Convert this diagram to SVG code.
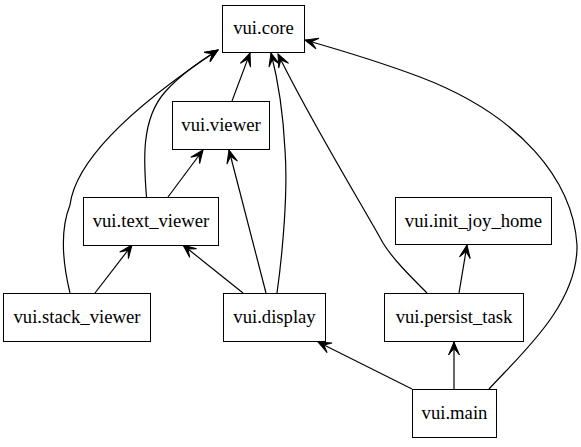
<svg xmlns="http://www.w3.org/2000/svg" width="581" height="447" viewBox="0 0 581 447">
<style>
  .node rect { fill: #ffffff; stroke: #000000; stroke-width: 1; }
  .node text { font-family: 'Liberation Serif', 'Times New Roman', serif; font-size: 18.67px; text-anchor: middle; fill: #000000; }
  .edges path { fill: none; stroke: #000000; stroke-width: 1.2; marker-end: url(#vee); }
</style>
<defs>
  <marker id="vee" viewBox="-15 -7 17 14" refX="0" refY="0" markerWidth="17" markerHeight="14" orient="auto" markerUnits="userSpaceOnUse">
    <path d="M0,0 L-13,-5.5 L-6.5,0 L-13,5.5 Z" fill="#000000" stroke="#000000" stroke-width="1" stroke-linejoin="miter"/>
  </marker>
</defs>
<rect width="581" height="447" fill="#ffffff"/>
<g class="edges">
  <path d="M232,101 L250,53"/>
  <path d="M168,197 L203,150"/>
  <path d="M146.5,197 C144,165 140,120 165,92 C180,75 197,63 218,50"/>
  <path d="M95,293 L132,245"/>
  <path d="M70,293 C62,260 60,230 70,205 C75,165 120,115 218,50"/>
  <path d="M243,293 L183,245"/>
  <path d="M266,293 L229,150"/>
  <path d="M277,293 C283,250 288,190 285,150 C283,110 278,80 271,53"/>
  <path d="M427,293 C410,276 392,258 383,243 C365,210 310,120 278,54"/>
  <path d="M459,293 L467,245"/>
  <path d="M454,389 L454,342"/>
  <path d="M412,389 L318,342"/>
  <path d="M489,389 C520,355 578,305 577,245 C573,180 520,115 420,77 C380,62 340,50 305,40"/>
</g>
<g id="vui.core" class="node"><rect x="222.5" y="5.5" width="82" height="47"/><text x="263.5" y="34">vui.core</text></g>
<g id="vui.viewer" class="node"><rect x="172.5" y="101.5" width="97" height="48"/><text x="221" y="131">vui.viewer</text></g>
<g id="vui.text_viewer" class="node"><rect x="83.5" y="197.5" width="135" height="48"/><text x="151" y="227">vui.text_viewer</text></g>
<g id="vui.init_joy_home" class="node"><rect x="395.5" y="197.5" width="156" height="47"/><text x="473.5" y="226.5">vui.init_joy_home</text></g>
<g id="vui.stack_viewer" class="node"><rect x="3.5" y="293.5" width="147" height="48"/><text x="77" y="323">vui.stack_viewer</text></g>
<g id="vui.display" class="node"><rect x="223.5" y="293.5" width="102" height="48"/><text x="274.5" y="323">vui.display</text></g>
<g id="vui.persist_task" class="node"><rect x="384.5" y="293.5" width="139" height="48"/><text x="454" y="323">vui.persist_task</text></g>
<g id="vui.main" class="node"><rect x="412.5" y="389.5" width="84" height="48"/><text x="454.5" y="419">vui.main</text></g>
</svg>
